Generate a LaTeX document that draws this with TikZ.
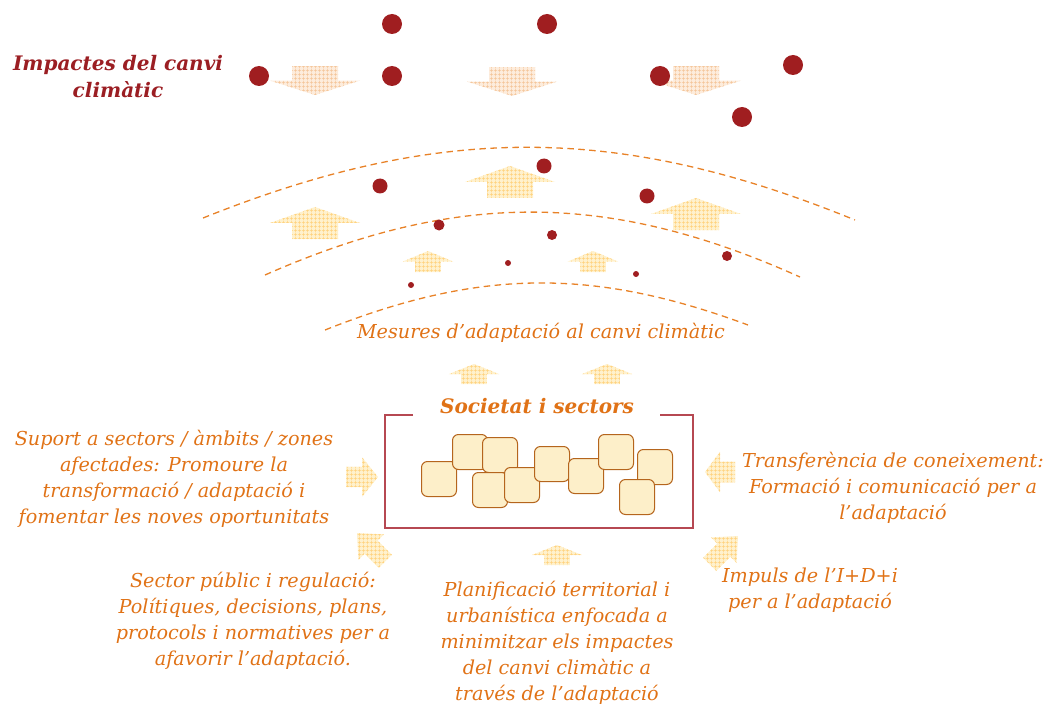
\documentclass[tikz,border=0pt]{standalone}
\usepackage{fontspec}
\setmainfont{DejaVu Serif}
\usetikzlibrary{patterns.meta}
\definecolor{dotred}{RGB}{160,30,32}
\definecolor{titlered}{RGB}{155,30,35}
\definecolor{txtorange}{RGB}{224,114,22}
\definecolor{arcorange}{RGB}{232,130,40}
\definecolor{framered}{RGB}{182,72,82}
\definecolor{tilefill}{RGB}{253,239,201}
\definecolor{tileline}{RGB}{181,101,29}
\definecolor{upfill}{RGB}{255,241,205}
\definecolor{upline}{RGB}{255,208,120}
\definecolor{downfill}{RGB}{253,236,220}
\definecolor{downline}{RGB}{244,196,150}

\begin{document}
\begin{tikzpicture}[x=1pt, y=-1pt,
    txt/.style={text=txtorange, font=\itshape\fontsize{19.2}{26}\selectfont, align=center, inner sep=0pt},
    heading/.style={txt, font=\bfseries\itshape\fontsize{20}{27}\selectfont},
    impact/.style={circle, fill=dotred, inner sep=0pt, minimum size=#1},
    layer/.style={draw=arcorange, line width=1.3pt, dash pattern=on 6.5pt off 4.5pt},
    frame/.style={draw=framered, line width=1.4pt},
    tile/.style={draw=tileline, fill=tilefill, line width=1pt, rounded corners=6pt, minimum size=35pt, inner sep=0pt},
    uphatch/.style={preaction={fill=upfill}, pattern={Hatch[angle=0,distance=4pt,line width=.5pt]}, pattern color=upline},
    downhatch/.style={preaction={fill=downfill}, pattern={Hatch[angle=0,distance=4pt,line width=.5pt]}, pattern color=downline},
    blockarrow/.pic={\path[#1] (0,0) -- (45,16) -- (23,16) -- (23,32) -- (-23,32) -- (-23,16) -- (-45,16) -- cycle;}]
\useasboundingbox (0,0) rectangle (1045,706);

% impactes
\node[heading, text=titlered] (impacts) at (118,77) {Impactes del canvi\\climàtic};
\foreach \x/\y in {315/95, 512/96, 696/95}
  \pic[rotate=180, yscale=.9] at (\x,\y) {blockarrow=downhatch};

% capes d'adaptacio
\coordinate (outerW) at (203,218); \coordinate (outerE) at (855,220);
\coordinate (midW) at (265,275);   \coordinate (midE) at (800,277);
\coordinate (innerW) at (325,330); \coordinate (innerE) at (748,325);
\draw[layer] (outerW) to[bend left=22] (outerE);
\draw[layer] (midW) to[bend left=24] (midE);
\draw[layer] (innerW) to[bend left=21] (innerE);

\foreach \x/\y in {315/207, 510/166, 696/198}
  \pic at (\x,\y) {blockarrow=uphatch};
\foreach \x/\y in {428/251, 593/251}
  \pic[xscale=.56, yscale=.66] at (\x,\y) {blockarrow=uphatch};

\foreach \x/\y/\d [count=\i] in {392/24/20, 547/24/20, 259/76/20, 392/76/20, 660/76/20, 793/65/20, 742/117/20,
    380/186/15, 544/166/15, 647/196/15, 439/225/11, 552/235/10, 727/256/10, 508/263/6, 636/274/6, 411/285/6}
  \node[impact=\d pt] (dot\i) at (\x,\y) {};

\node[txt] (measures) at (541,333) {Mesures d’adaptació al canvi climàtic};
\foreach \x/\y in {474/364, 607/364}
  \pic[xscale=.56, yscale=.63] at (\x,\y) {blockarrow=uphatch};

% societat i sectors
\node[heading] (society) at (537,406) {Societat i sectors};
\coordinate (gapW) at (413,415); \coordinate (gapE) at (660,415);
\coordinate (boxNW) at (385,415); \coordinate (boxSE) at (693,528);
\draw[frame] (gapW) -- (boxNW) |- (boxSE) |- (gapE);
\foreach \x/\y [count=\i] in {439/479, 470/452, 500/455, 490/490, 522/485, 552/464, 586/476, 616/452, 655/467, 637/497}
  \node[tile] (tile\i) at (\x,\y) {};

% accions
\pic[rotate=-90, xscale=.44] at (378,477) {blockarrow=uphatch};
\pic[rotate=90, xscale=.45, yscale=.94] at (705,472) {blockarrow=uphatch};
\pic[rotate=45, xscale=.4, yscale=1.25] at (357,533) {blockarrow=uphatch};
\pic[rotate=-45, xscale=.4, yscale=1.25] at (738,536) {blockarrow=uphatch};
\pic[xscale=.56, yscale=.63] at (557,545) {blockarrow=uphatch};

\node[txt] (support) at (174,479) {Suport a sectors / àmbits / zones\\afectades: Promoure la\\transformació / adaptació i\\fomentar les noves oportunitats};
\node[txt] (transfer) at (893,488) {Transferència de coneixement:\\Formació i comunicació per a\\l’adaptació};
\node[txt] (research) at (810,590) {Impuls de l’I+D+i\\per a l’adaptació};
\node[txt] (regulation) at (253,621) {Sector públic i regulació:\\Polítiques, decisions, plans,\\protocols i normatives per a\\afavorir l’adaptació.};
\node[txt] (planning) at (557,643) {Planificació territorial i\\urbanística enfocada a\\minimitzar els impactes\\del canvi climàtic a\\través de l’adaptació};
\end{tikzpicture}
\end{document}
